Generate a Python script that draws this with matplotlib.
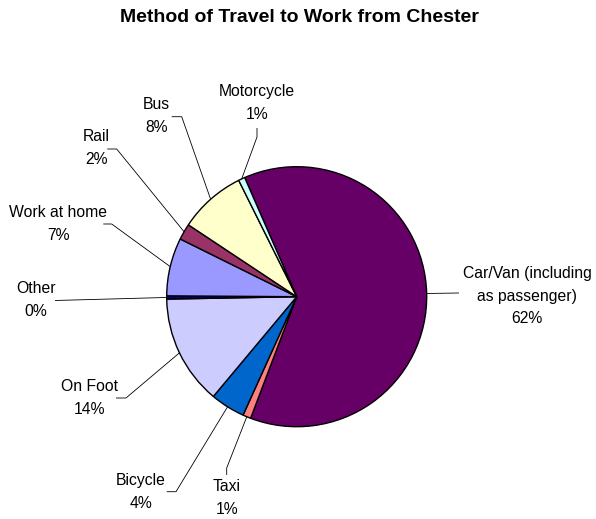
import numpy as np
import matplotlib
matplotlib.use("Agg")
import matplotlib.pyplot as plt

# ---- data ----
categories = ["Car/Van (including\nas passenger)", "Taxi", "Bicycle", "On Foot", "Other",
              "Work at home", "Rail", "Bus", "Motorcycle"]
values = [62.2, 1.0, 4.3, 13.6, 0.4, 7.2, 2.0, 8.3, 0.8]
colors = ["#660066", "#FF8080", "#0066CC", "#CCCCFF", "#000080",
          "#9999FF", "#993366", "#FFFFCC", "#CCFFFF"]
title = "Method of Travel to Work from Chester"

# ---- layout (pixel coordinates, image y measured from top) ----
W, H = 596, 519
cx, cy, R = 296.7, 296.7, 130.0
# label text centres
label_pos = [(527, 296), (227, 498), (141, 492), (89.5, 398), (36, 300),
             (58, 224), (96, 148), (156.7, 116), (257, 103)]
# leader line elbow / end points
leader_pts = [
    [(459, 293)],
    [(226.7, 468), (226.7, 475)],
    [(176, 491.7), (166.7, 491.7)],
    [(126, 398), (116, 398)],
    [(55, 300.5)],
    [(111.7, 224), (103.3, 224)],
    [(116.7, 149), (107.3, 149)],
    [(181.7, 116.7), (171.7, 116.7)],
    [(257, 137), (257, 128)],
]

fig = plt.figure(figsize=(W / 100, H / 100), dpi=100)
ax = fig.add_axes([0, 0, 1, 1])
ax.set_xlim(0, W)
ax.set_ylim(0, H)
ax.set_aspect("equal")
ax.axis("off")

def Y(y):
    return H - y

wedges, _ = ax.pie(values, colors=colors, startangle=113.6, counterclock=False,
                   center=(cx, Y(cy)), radius=R, frame=True,
                   wedgeprops=dict(edgecolor="black", linewidth=1.0))
ax.set_xlim(0, W)
ax.set_ylim(0, H)
ax.axis("off")

total = sum(values)
font = "Liberation Sans"
for w, cat, v, (tx, ty), pts in zip(wedges, categories, values, label_pos, leader_pts):
    mid = np.deg2rad((w.theta1 + w.theta2) / 2)
    sx = cx + R * np.cos(mid)
    sy = Y(cy) + R * np.sin(mid)
    xs = [sx] + [p[0] for p in pts]
    ys = [sy] + [Y(p[1]) for p in pts]
    ax.plot(xs, ys, color="black", lw=0.6, solid_capstyle="butt")
    pct = round(v / total * 100)
    ax.text(tx, Y(ty), f"{cat}\n{pct}%", ha="center", va="center",
            multialignment="center", fontsize=11.3, family=font, linespacing=1.6)

ax.text(W / 2 + 1, Y(17), title, ha="center", va="center", fontsize=14,
        fontweight="bold", family=font)

fig.savefig("out.png", dpi=100, facecolor="white")
